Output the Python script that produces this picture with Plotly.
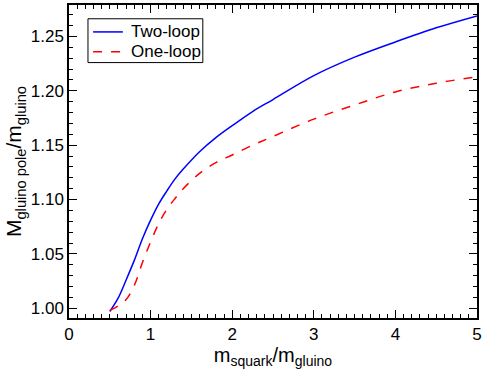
import plotly.graph_objects as go

# ratio squark / gluino mass
ratio = [0.5, 0.6, 0.7, 0.8, 0.9, 1.0, 1.1, 1.2, 1.3, 1.4, 1.6, 1.8,
         2.0, 2.25, 2.5, 3.0, 3.5, 4.0, 4.5, 5.0]
two_loop = [0.997, 1.009, 1.026, 1.044, 1.064, 1.081, 1.096, 1.108, 1.119, 1.128, 1.144, 1.157,
            1.168, 1.181, 1.192, 1.214, 1.231, 1.245, 1.258, 1.269]
one_loop = [0.998, 1.002, 1.008, 1.021, 1.042, 1.061, 1.078, 1.091, 1.101, 1.110, 1.124, 1.134,
            1.141, 1.150, 1.158, 1.174, 1.187, 1.199, 1.207, 1.213]

x_ticks = [0, 1, 2, 3, 4, 5]
y_ticks = [1.00, 1.05, 1.10, 1.15, 1.20, 1.25]

series = [('Two-loop', two_loop, '#0000ff', 'solid'),
          ('One-loop', one_loop, '#ff0000', 'dash')]

fig = go.Figure()
for name, vals, col, dash in series:
    fig.add_trace(go.Scatter(x=ratio, y=vals, mode='lines', name=name,
                             line=dict(color=col, width=1.5, dash=dash, shape='spline')))

axis_style = dict(showline=True, linecolor='black', linewidth=1.5, mirror='ticks',
                  ticks='inside', ticklen=8, tickwidth=1, tickcolor='black',
                  showgrid=False, zeroline=False, automargin=True,
                  tickfont=dict(size=17, color='black'))

fig.update_xaxes(range=[0, 5], tickvals=x_ticks,
                 minor=dict(dtick=0.1, ticks='inside', ticklen=4, tickcolor='black', showgrid=False),
                 title=dict(text='m<sub>squark</sub>/m<sub>gluino</sub>', font=dict(size=20), standoff=1),
                 **axis_style)
fig.update_yaxes(range=[0.991, 1.279], tickvals=y_ticks, tickformat='.2f',
                 minor=dict(dtick=0.01, ticks='inside', ticklen=4, tickcolor='black', showgrid=False),
                 title=dict(text='M<sub>gluino pole</sub>/m<sub>gluino</sub>', font=dict(size=21), standoff=3),
                 **axis_style)

# legend box drawn by hand (plotly's own legend rows are too tall here)
fig.add_shape(type='rect', xref='paper', yref='paper', x0=0.0465, x1=0.328, y0=0.816, y1=0.956,
              line=dict(color='black', width=1), fillcolor='white', layer='above')
for i, (name, vals, col, dash) in enumerate(series):
    yl = 0.914 - i * 0.063
    fig.add_shape(type='line', xref='paper', yref='paper', x0=0.059, x1=0.132, y0=yl, y1=yl,
                  line=dict(color=col, width=1.5, dash=dash), layer='above')
    fig.add_annotation(xref='paper', yref='paper', x=0.148, y=yl, text=name, showarrow=False,
                       xanchor='left', yanchor='middle', font=dict(size=17))

fig.update_layout(
    width=485, height=369,
    margin=dict(l=69, r=7, t=3, b=51),
    plot_bgcolor='white', paper_bgcolor='white',
    font=dict(family='Liberation Sans, Arial, sans-serif', color='black'),
    showlegend=False,
)

# page body has a default 8px margin, drop it so the figure sits at the corner
fig.write_html("out.html", config={'displayModeBar': False},
               post_script="document.body.style.margin='0';")
